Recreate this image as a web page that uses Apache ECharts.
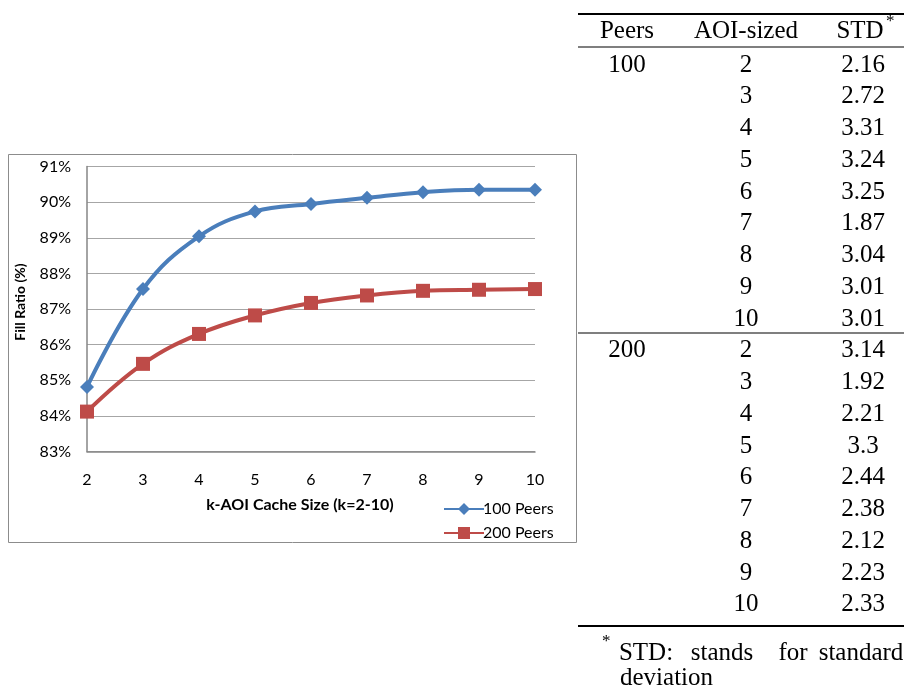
<!DOCTYPE html>
<html>
<head>
<meta charset="utf-8">
<script src="https://cdn.jsdelivr.net/npm/echarts@6/dist/echarts.min.js"></script>
<style>
html,body{margin:0;padding:0;background:#fff;}
#main{width:904px;height:686px;}
</style>
</head>
<body>
<div id="main"></div>
<script>
// ---- chart data ----
const kValues = ['2', '3', '4', '5', '6', '7', '8', '9', '10'];
const peers100 = [84.81, 87.56, 89.04, 89.74, 89.95, 90.12, 90.28, 90.35, 90.35];
const peers200 = [84.12, 85.46, 86.30, 86.82, 87.17, 87.38, 87.51, 87.54, 87.56];
const seriesNames = ['100 Peers', '200 Peers'];
const yMin = 83, yMax = 91, yStep = 1;
const xTitle = 'k-AOI Cache Size (k=2-10)';
const yTitle = 'Fill Ratio (%)';

// ---- table data ----
const tableHeader = ['Peers', 'AOI-sized', 'STD'];
const tablePeers = ['100', '200'];
const aoiSizes = ['2', '3', '4', '5', '6', '7', '8', '9', '10'];
const std100 = ['2.16', '2.72', '3.31', '3.24', '3.25', '1.87', '3.04', '3.01', '3.01'];
const std200 = ['3.14', '1.92', '2.21', '3.3', '2.44', '2.38', '2.12', '2.23', '2.33'];
const footnoteWords = ['STD:', 'stands', 'for', 'standard'];
const footnoteLine2 = 'deviation';

const SANS = 'Lato, "Open Sans", sans-serif';
const SERIF = '"Liberation Serif", "DejaVu Serif", serif';

const chart = echarts.init(document.getElementById('main'), null, {renderer: 'canvas'});

const g = [];
// chart frame
g.push({type: 'rect', shape: {x: 8.5, y: 154.5, width: 568, height: 388},
  style: {fill: 'none', stroke: '#8c8c8c', lineWidth: 1}, z: 0});
// axis titles
g.push({type: 'text', x: 20, y: 302, rotation: Math.PI / 2,
  style: {text: yTitle, font: 'bold 14px ' + SANS, fill: '#000', align: 'center', verticalAlign: 'middle'}});
g.push({type: 'text', x: 300, y: 505,
  style: {text: xTitle, font: 'bold 16px ' + SANS, fill: '#000', align: 'center', verticalAlign: 'middle'}});

// table
const colX = [627, 746, 863];
const tFont = '25px ' + SERIF;
function line(y, w) {
  g.push({type: 'line', shape: {x1: 578, y1: y, x2: 904, y2: y}, style: {stroke: '#000', lineWidth: w}});
}
line(14, 1.8);
line(47, 1.2);
line(333, 1.2);
line(626, 1.8);
tableHeader.forEach((h, i) => {
  g.push({type: 'text', x: i === 2 ? 860 : colX[i], y: 31,
    style: {text: h, font: tFont, fill: '#000', align: 'center', verticalAlign: 'middle'}});
});
g.push({type: 'text', x: 886, y: 22,
  style: {text: '*', font: '17px ' + SERIF, fill: '#000', align: 'left', verticalAlign: 'middle'}});
const rowH = 31.75, row0 = 65;
[std100, std200].forEach((stds, gi) => {
  g.push({type: 'text', x: colX[0], y: row0 + gi * 9 * rowH,
    style: {text: tablePeers[gi], font: tFont, fill: '#000', align: 'center', verticalAlign: 'middle'}});
  aoiSizes.forEach((a, i) => {
    const y = row0 + (gi * 9 + i) * rowH;
    g.push({type: 'text', x: colX[1], y: y,
      style: {text: a, font: tFont, fill: '#000', align: 'center', verticalAlign: 'middle'}});
    g.push({type: 'text', x: colX[2], y: y,
      style: {text: stds[i], font: tFont, fill: '#000', align: 'center', verticalAlign: 'middle'}});
  });
});
// footnote
g.push({type: 'text', x: 602, y: 642,
  style: {text: '*', font: '17px ' + SERIF, fill: '#000', align: 'left', verticalAlign: 'middle'}});
const fnX = [646, 722, 793, 861];
footnoteWords.forEach((w, i) => {
  g.push({type: 'text', x: fnX[i], y: 653,
    style: {text: w, font: tFont, fill: '#000', align: 'center', verticalAlign: 'middle'}});
});
g.push({type: 'text', x: 620, y: 678,
  style: {text: footnoteLine2, font: tFont, fill: '#000', align: 'left', verticalAlign: 'middle'}});

chart.setOption({
  animation: false,
  backgroundColor: '#fff',
  textStyle: {fontFamily: SANS},
  grid: {left: 87, right: 369, top: 166.5, bottom: 234.5, containLabel: false},
  legend: {
    orient: 'vertical', left: 438, top: 496, itemWidth: 40, itemHeight: 15, itemGap: 8,
    textStyle: {fontSize: 16, color: '#000', fontFamily: SANS, padding: [0, 0, 0, -6]},
    data: seriesNames
  },
  xAxis: {
    type: 'category', data: kValues, boundaryGap: false,
    axisLine: {show: true, lineStyle: {color: '#868686', width: 1.5}},
    axisTick: {show: false},
    axisLabel: {color: '#000', fontSize: 16, margin: 20, fontFamily: SANS},
    splitLine: {show: false}
  },
  yAxis: {
    type: 'value', min: yMin, max: yMax, interval: yStep,
    axisLine: {show: true, lineStyle: {color: '#868686', width: 1.5}},
    axisTick: {show: false},
    axisLabel: {color: '#000', fontSize: 16, margin: 16, fontFamily: SANS, formatter: '{value}%'},
    splitLine: {show: true, lineStyle: {color: '#a6a6a6', width: 1}}
  },
  series: [
    {
      name: seriesNames[0], type: 'line', data: peers100, smooth: 0.4,
      symbol: 'diamond', symbolSize: 14, showSymbol: true,
      itemStyle: {color: '#4a7ebb'}, lineStyle: {color: '#4a7ebb', width: 4}, z: 3
    },
    {
      name: seriesNames[1], type: 'line', data: peers200, smooth: 0.4,
      symbol: 'rect', symbolSize: 14, showSymbol: true,
      itemStyle: {color: '#be4b48'}, lineStyle: {color: '#be4b48', width: 4}, z: 2
    }
  ],
  graphic: g
});
</script>
</body>
</html>
